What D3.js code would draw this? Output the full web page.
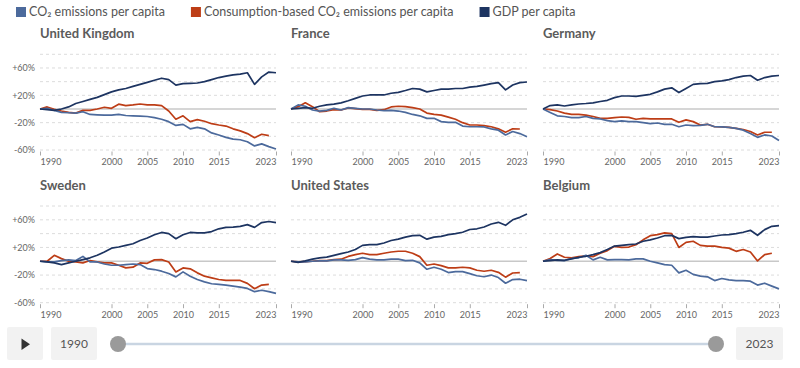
<!DOCTYPE html>
<html><head><meta charset="utf-8">
<script src="https://cdn.jsdelivr.net/npm/d3@7"></script>
<style>body{margin:0;background:#fff;}svg{display:block;font-family:Lato,"Noto Sans",sans-serif;}</style>
</head><body><svg id="c" width="800" height="368"></svg>
<script>
const years = [1990,1991,1992,1993,1994,1995,1996,1997,1998,1999,2000,2001,2002,2003,2004,2005,2006,2007,2008,2009,2010,2011,2012,2013,2014,2015,2016,2017,2018,2019,2020,2021,2022,2023];
const seriesNames = ["CO₂ emissions per capita","Consumption-based CO₂ emissions per capita","GDP per capita"];
const seriesColors = ["#4c6a9c","#bd3d16","#1d3461"];
const yTicks = [60,20,-20,-60];
const gridValues = [80,60,40,20,-20,-40,-60];
const xTicks = [1990,2000,2005,2010,2015,2023];
const countries = ["United Kingdom","France","Germany","Sweden","United States","Belgium"];

const ukCO2 = [0,1,-2,-5,-5.5,-6,-4,-8,-8.5,-9,-9,-8,-9.5,-10,-10.5,-11,-12.7,-15,-18.5,-24,-22.5,-29,-27,-29,-35,-38,-41.5,-44,-45,-48,-54,-51,-55,-58.5];
const ukCons = [0,3,-0.5,-3,-5,-6,-2,-2,0,2.5,1,7,5,6,7.3,6,6,5,-3,-15,-10,-18.5,-15.6,-18,-21.5,-23.4,-25,-29,-32,-36,-42,-37,-39];
const ukGDP = [0,-1,-2,0,3,8,11,14,17,21,25,28,30,33,36,39,42,45,43,35,37,37.5,38,40,43,46,48,50,51,53,36,47,54,53];

const frCO2 = [0,6,4,-1.5,-3,-2,1,-1.5,2,1,0,0,-1.5,-2.5,-2,-3,-5,-8,-10,-13.7,-13.7,-18.5,-19.5,-19.5,-25,-26,-26,-26.3,-29,-31,-38,-33,-36,-40.5];
const frCons = [0,3.4,9,3.4,-4,-3,-1,-1.5,1.5,0.5,-0.5,-0.5,-2,-1,3,4,3.4,2,0,-6,-8,-9,-12,-15,-20,-23.4,-23.4,-24.4,-26,-29,-34,-29,-29.3];
const frGDP = [0,1,2,1,4,6,7,9,12,15.6,19,20.5,20.5,20.5,23,24.4,27,30,29,25,27,29,29,30,30,32,33,35,37,38.5,28,35,38.5,39.5];

const deCO2 = [0,-5,-10,-11,-12.7,-12.7,-11,-13.7,-14.6,-17,-18.5,-17.5,-18.5,-18.5,-20,-21.5,-20.5,-22.4,-22.4,-26,-23.4,-24.4,-24,-22.4,-26,-26.3,-26.8,-28.3,-31,-36,-41.5,-38,-39.5,-46];
const deCons = [0,-1,-3,-6,-8,-8,-9,-11,-13.7,-13.7,-12.7,-11.7,-12.2,-15,-13.7,-14.6,-14.6,-14.6,-14.6,-19.5,-16,-18.5,-23.4,-22.4,-26,-26.3,-26.8,-28.3,-30,-33,-38,-34,-34];
const deGDP = [0,5,6,4.4,6,7.3,8,9,11,12.7,16.6,19,19,18.5,20,21.5,25,29,31,24,30,36,37,37.5,40,41,43,46,48,49,42,46,48,49];

const seCO2 = [0,-1,-1,1,2,1,7,-1,-1,-4,-5.8,-5.8,-4.8,-4,-4.8,-10.6,-12,-14.4,-17.8,-22.6,-15.4,-21.6,-26.4,-29.8,-32.6,-33.6,-34.5,-36,-37.4,-39.3,-44,-42,-44,-46.5];
const seCons = [0,0,8.6,3.8,0,-1,-2.4,1,-1,-2.4,-2.4,-5.8,-9.6,-8.6,-2.4,-3,2,2.4,-1,-15.4,-9.6,-11,-16.8,-21.6,-24,-26.4,-27.8,-27.8,-27.8,-32,-39.8,-34.5,-33.6];
const seGDP = [0,-1,-2.4,-4.8,-2.4,0,2.4,5,8.6,13.4,19,20.6,23,25.4,30,33.6,38.4,41.7,40,32.6,38.4,41.7,41,41,43,47,49,49.4,50.4,53,49,56,57.6,56];

const usCO2 = [0,-1,-1,0,0.5,0.5,2,2,1.4,2.4,5.3,3,2,2,3,3,1,1.4,-2.4,-11.6,-8.7,-11.6,-16.4,-15,-15,-18,-21,-22.4,-20,-23.6,-31.8,-26.5,-26,-28];
const usCons = [0,-1,-0.5,0,1,1,2.5,3,7,9.6,11.6,9.6,9.6,11.6,13.4,14.5,14.5,11.6,6.7,-5.8,-4,-6.3,-9.6,-9.6,-8.7,-9.6,-13,-14.5,-13,-16,-23,-17,-16.5];
const usGDP = [0,-1.5,0.5,3,5,6,8.6,11,13.4,17,23,24,24,26.5,30,32,35,37,37.5,32,35,36,38.5,40,42,46,47,49.6,54,56.4,52,60,63.6,68.4];

const beCO2 = [0,2.4,1.4,1,4,5,8.6,2,5.8,2,2.4,2.4,2,3.4,3.4,0,-2.4,-4.8,-5.8,-16.8,-13,-19,-21.6,-22.6,-28,-25,-27,-28,-28,-28.8,-34.5,-31.8,-36,-40];
const beCons = [0,4,10.6,5.8,5,6.7,7.7,6.7,11.6,15.4,21.6,20,20.6,24,31,37,38.5,41,40,20,27.4,29,23,22,22,20,19,14.4,17,13.4,0.5,9.6,11.6];
const beGDP = [0,1,2,1.4,3.4,5.8,7.2,9.6,12.5,17,22,23,24,25,29,31,33.7,37,37.5,32.8,34.7,35.7,35,35,36.6,38,38.5,40,42,44.8,37.6,45.8,50.6,51.6];

const panelSeries = [
  [ukCO2, ukCons, ukGDP],[frCO2, frCons, frGDP],[deCO2, deCons, deGDP],
  [seCO2, seCons, seGDP],[usCO2, usCons, usGDP],[beCO2, beCons, beGDP]
];

const svg = d3.select("#c");

// Legend (sequential layout)
const leg = svg.append("g");
let lx = 16;
seriesNames.forEach((n,i)=>{
  leg.append("rect").attr("x",lx).attr("y",7).attr("width",10).attr("height",10).attr("fill",seriesColors[i]);
  const t = leg.append("text").attr("x",lx+13).attr("y",12).attr("dy","0.35em")
    .attr("font-size",12.5).attr("fill","#555").text(n);
  lx = lx + 13 + t.node().getComputedTextLength() + 26;
});

const colX = [40, 291, 543];
const panelW = 236;
const rowTop = [54.3, 206];
const panelH = [95.7, 96.7];

countries.forEach((name, idx)=>{
  const col = idx % 3, row = Math.floor(idx/3);
  const x0 = colX[col], y0 = rowTop[row], h = panelH[row];
  const g = svg.append("g").attr("transform",`translate(${x0},${y0})`);
  const x = d3.scaleLinear().domain([years[0], years[years.length-1]]).range([0, panelW]);
  const y = d3.scaleLinear().domain([-60, 80]).range([h, 0]);

  g.append("text").attr("x",0).attr("y",-16.5).attr("font-size",13).attr("font-weight","bold")
    .attr("fill","#5b5b5b").text(name);

  g.selectAll(".grid").data(gridValues).join("line")
    .attr("x1",0).attr("x2",panelW).attr("y1",d=>y(d)).attr("y2",d=>y(d))
    .attr("stroke","#dcdcdc").attr("stroke-width",1).attr("stroke-dasharray","3,3");
  g.append("line").attr("x1",0).attr("x2",panelW).attr("y1",y(0)).attr("y2",y(0))
    .attr("stroke","#c8c8c8").attr("stroke-width",1.6);

  if (col === 0) {
    const ya = d3.axisLeft(y).tickValues(yTicks).tickSize(0).tickPadding(5)
      .tickFormat(d => (d>0?"+":"") + d + "%");
    const ag = g.append("g").call(ya);
    ag.select(".domain").remove();
    ag.selectAll("text").attr("font-size",9).attr("fill","#666").attr("font-family","Lato,'Noto Sans',sans-serif");
  }

  const xa = d3.axisBottom(x).tickValues(xTicks).tickSize(4).tickPadding(3).tickFormat(d3.format("d"));
  const xg = g.append("g").attr("transform",`translate(0,${h+1.5})`).call(xa);
  xg.select(".domain").remove();
  xg.selectAll("line").attr("stroke","#aaa");
  xg.selectAll("text").attr("font-size",9).attr("fill","#666").attr("font-family","Lato,'Noto Sans',sans-serif")
    .attr("text-anchor", d => d===years[0] ? "start" : (d===years[years.length-1] ? "end" : "middle"));

  const order = [1,0,2];
  order.forEach(si=>{
    const vals = panelSeries[idx][si];
    const line = d3.line().x((d,i)=>x(years[i])).y(d=>y(d));
    g.append("path").datum(vals).attr("d",line).attr("fill","none")
      .attr("stroke",seriesColors[si]).attr("stroke-width",1.7).attr("stroke-linejoin","round");
  });
});

const tl = svg.append("g");
tl.append("rect").attr("x",7).attr("y",327).attr("width",36).attr("height",33).attr("rx",2).attr("fill","#f2f2f2");
tl.append("path").attr("d","M21.5,338.5 L21.5,350 L30,344.2 Z").attr("fill","#333");
tl.append("rect").attr("x",51).attr("y",327).attr("width",46).attr("height",33).attr("rx",2).attr("fill","#f2f2f2");
tl.append("text").attr("x",74).attr("y",344).attr("dy","0.35em").attr("text-anchor","middle")
  .attr("font-size",12).attr("fill","#555").text(years[0]);
const sx = d3.scaleLinear().domain([years[0], years[years.length-1]]).range([118, 716]);
tl.append("line").attr("x1",sx(years[0])).attr("x2",sx(years[years.length-1])).attr("y1",344).attr("y2",344)
  .attr("stroke","#c9d5e2").attr("stroke-width",2.5);
tl.selectAll("circle").data([years[0], years[years.length-1]]).join("circle")
  .attr("cx",d=>sx(d)).attr("cy",344).attr("r",8).attr("fill","#9a9a9a");
tl.append("rect").attr("x",736).attr("y",327).attr("width",47).attr("height",33).attr("rx",2).attr("fill","#f2f2f2");
tl.append("text").attr("x",759.5).attr("y",344).attr("dy","0.35em").attr("text-anchor","middle")
  .attr("font-size",12).attr("fill","#555").text(years[years.length-1]);
</script></body></html>
